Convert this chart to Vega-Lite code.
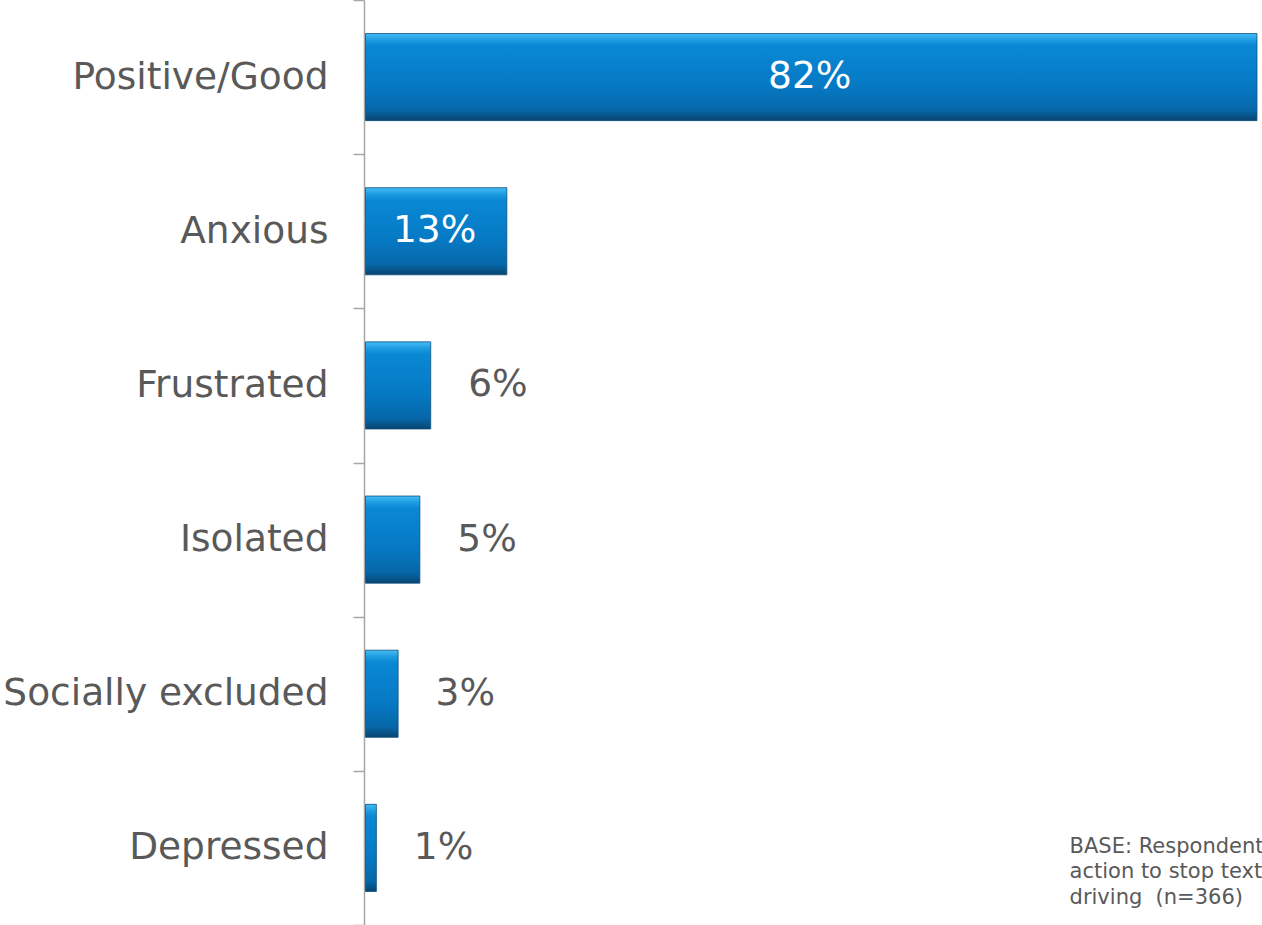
{
  "$schema": "https://vega.github.io/schema/vega-lite/v6.json",
  "autosize": "none",
  "padding": {"left": 364, "top": 0, "right": 0, "bottom": 0},
  "width": 898,
  "height": 925,
  "background": "white",
  "config": {"view": {"stroke": null}, "font": "DejaVu Sans"},
  "data": {"values": [
    {"category": "Positive/Good", "value": 82, "label": "82%"},
    {"category": "Anxious", "value": 13, "label": "13%"},
    {"category": "Frustrated", "value": 6, "label": "6%"},
    {"category": "Isolated", "value": 5, "label": "5%"},
    {"category": "Socially excluded", "value": 3, "label": "3%"},
    {"category": "Depressed", "value": 1, "label": "1%"}
  ]},
  "encoding": {
    "y": {
      "field": "category", "type": "nominal", "sort": null,
      "scale": {"paddingInner": 0, "paddingOuter": 0},
      "axis": {
        "title": null, "tickBand": "extent", "tickSize": 11, "tickColor": "#a6a6a6",
        "domainColor": "#a6a6a6", "domainWidth": 1.5, "tickWidth": 1.5,
        "labelFontSize": 37.5, "labelColor": "#595959", "labelPadding": 25,
        "labelFont": "DejaVu Sans", "labelLimit": 400
      }
    }
  },
  "layer": [
    {
      "mark": {
        "type": "bar",
        "height": {"band": 0.565},
        "xOffset": 1.5,
        "stroke": "#0b4f7e", "strokeWidth": 0.8,
        "color": {
          "gradient": "linear", "x1": 0, "y1": 0, "x2": 0, "y2": 1,
          "stops": [
            {"offset": 0, "color": "#45bdf5"},
            {"offset": 0.08, "color": "#1b9ae0"},
            {"offset": 0.14, "color": "#0a88d4"},
            {"offset": 0.6, "color": "#0679c4"},
            {"offset": 0.88, "color": "#0667a8"},
            {"offset": 1, "color": "#08456f"}
          ]
        }
      },
      "encoding": {
        "x": {"field": "value", "type": "quantitative", "scale": {"domain": [0, 82.6]}, "axis": null}
      }
    },
    {
      "transform": [{"filter": "datum.value < 10"}],
      "mark": {"type": "text", "align": "left", "baseline": "middle", "dx": 39, "fontSize": 37.5, "color": "#595959", "font": "DejaVu Sans"},
      "encoding": {
        "x": {"field": "value", "type": "quantitative", "scale": {"domain": [0, 82.6]}, "axis": null},
        "text": {"field": "label"}
      }
    },
    {
      "transform": [{"filter": "datum.value >= 10"}],
      "mark": {"type": "text", "align": "center", "baseline": "middle", "fontSize": 37.5, "color": "white", "font": "DejaVu Sans"},
      "encoding": {
        "x": {"field": "value", "type": "quantitative", "scale": {"domain": [0, 165.2]}, "axis": null},
        "text": {"field": "label"}
      }
    },
    {
      "data": {"values": [{"note": ["BASE: Respondents who took", "action to stop texting while", "driving \u00a0(n=366)"], "x": 64.9, "category": "Depressed"}]},
      "mark": {"type": "text", "align": "left", "baseline": "middle", "fontSize": 21, "lineHeight": 25.5, "dy": -1, "color": "#595959", "font": "DejaVu Sans"},
      "encoding": {
        "x": {"field": "x", "type": "quantitative", "scale": {"domain": [0, 82.6]}, "axis": null},
        "text": {"field": "note"}
      }
    }
  ],
  "resolve": {"scale": {"x": "independent"}}
}
